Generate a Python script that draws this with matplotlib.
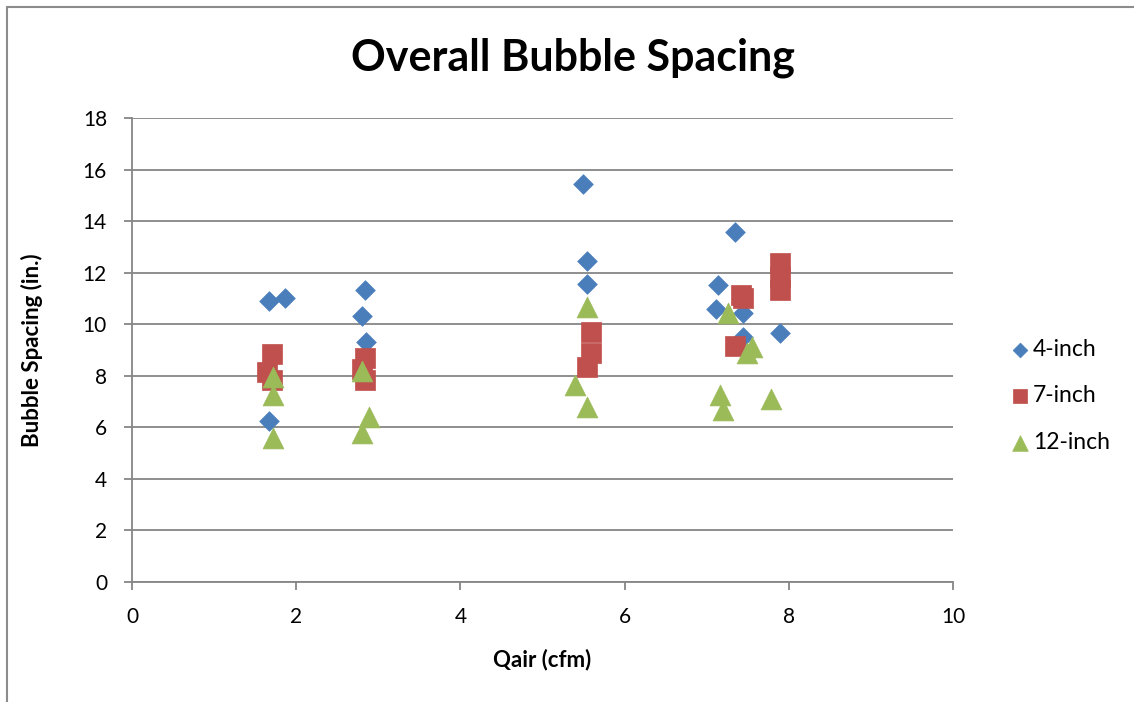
import numpy as np
import matplotlib.pyplot as plt
from matplotlib.patches import Rectangle

# 4-inch
x_4 = [1.67, 1.86, 1.67, 2.84, 2.80, 2.85, 5.49, 5.54, 5.54,
       7.34, 7.14, 7.11, 7.44, 7.44, 7.89]
y_4 = [10.9, 11.0, 6.25, 11.33, 10.33, 9.3, 15.44, 12.45, 11.56,
       13.58, 11.52, 10.59, 10.43, 9.5, 9.66]

# 7-inch
x_7 = [1.70, 1.65, 1.70, 2.84, 2.80, 2.84, 5.59, 5.59, 5.54,
       7.42, 7.44, 7.34, 7.89, 7.89, 7.89]
y_7 = [8.85, 8.15, 7.85, 8.7, 8.25, 7.85, 9.7, 8.88, 8.34,
       11.13, 11.0, 9.15, 12.37, 11.83, 11.33]

# 12-inch
x_12 = [1.72, 1.72, 1.72, 2.80, 2.89, 2.80, 5.54, 5.40, 5.54,
        7.26, 7.55, 7.49, 7.16, 7.20, 7.78]
y_12 = [7.95, 7.25, 5.6, 8.2, 6.4, 5.78, 10.67, 7.64, 6.79,
        10.43, 9.12, 8.88, 7.25, 6.67, 7.1]

plt.rcParams['font.family'] = ['Lato', 'DejaVu Sans']

fig = plt.figure(figsize=(11.34, 7.02), dpi=100)
ax = fig.add_axes([132 / 1134, 1 - 582 / 702, (953 - 132) / 1134, (582 - 118) / 702])

# outer chart border
fig.patches.append(Rectangle((7 / 1134, -0.05), 1.2, 1.0 - 7 / 702 + 0.05,
                             transform=fig.transFigure, fill=False,
                             edgecolor='#8c8c8c', linewidth=1.5))

ax.scatter(x_4, y_4, marker='D', s=10 ** 2, color='#4a7ebb', edgecolors='#4a7ebb',
           linewidths=0.5, label='4-inch', zorder=3)
ax.scatter(x_7, y_7, marker='s', s=14 ** 2, color='#c0504d', edgecolors='#c0504d',
           linewidths=0.5, label='7-inch', zorder=3)
ax.scatter(x_12, y_12, marker='^', s=15 ** 2, color='#9bbb59', edgecolors='#9bbb59',
           linewidths=0.5, label='12-inch', zorder=3)

ax.set_xlim(0, 10)
ax.set_ylim(0, 18)
ax.set_xticks(np.arange(0, 11, 2))
ax.set_yticks(np.arange(0, 19, 2))
ax.yaxis.grid(True, color='#868686', linewidth=1.3)
ax.set_axisbelow(True)
for side in ['top', 'right']:
    ax.spines[side].set_visible(False)
for side in ['left', 'bottom']:
    ax.spines[side].set_color('#868686')
    ax.spines[side].set_linewidth(1.3)
ax.tick_params(axis='both', colors='#868686', length=6, width=1.3, labelsize=15,
               labelcolor='black', pad=12)

ax.set_xlabel('Qair (cfm)', fontsize=16, fontweight='bold', va='center')
ax.set_ylabel('Bubble Spacing (in.)', fontsize=16, fontweight='bold', va='center')
ax.xaxis.set_label_coords(0.5, (582 - 660) / 464)
ax.yaxis.set_label_coords((32 - 132) / 821, 0.5)
fig.text(573 / 1134, 1 - 58 / 702, 'Overall Bubble Spacing', ha='center', va='center',
         fontsize=31, fontweight='bold')

leg = ax.legend(loc='center left', bbox_to_anchor=(988 / 1134, 1 - 396 / 702),
                bbox_transform=fig.transFigure, frameon=False, fontsize=16.5,
                labelspacing=1.1, handletextpad=0.05, handlelength=1.0,
                markerscale=0.75)

fig.savefig('out.png', dpi=100)
